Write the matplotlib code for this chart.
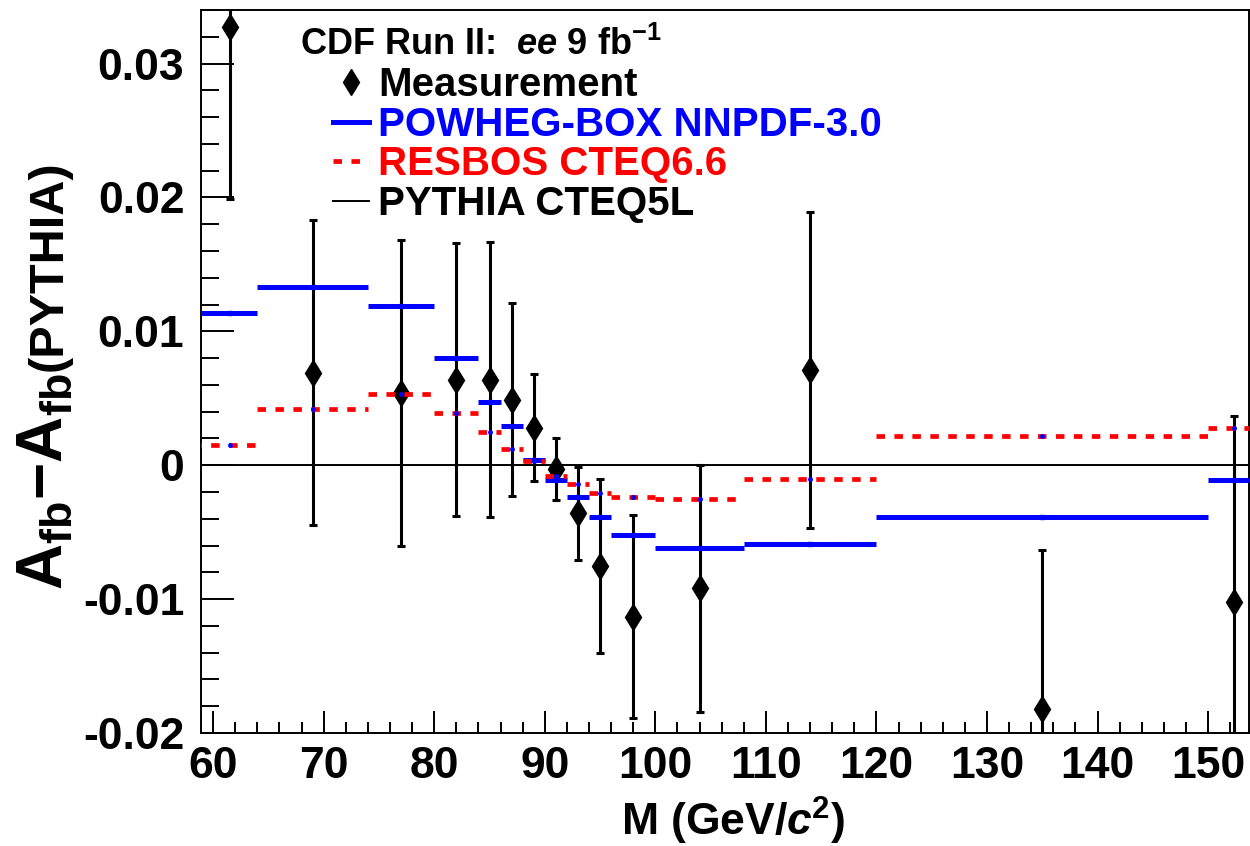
import numpy as np
import matplotlib.pyplot as plt
from matplotlib.lines import Line2D
from matplotlib.ticker import MultipleLocator

plt.rcParams['font.family'] = ['Liberation Sans', 'DejaVu Sans']
plt.rcParams['font.weight'] = 'bold'
plt.rcParams['mathtext.fontset'] = 'custom'
plt.rcParams['mathtext.rm'] = 'Liberation Sans:bold'
plt.rcParams['mathtext.bf'] = 'Liberation Sans:bold'
plt.rcParams['mathtext.it'] = 'Liberation Sans:italic:bold'
plt.rcParams['mathtext.bfit'] = 'Liberation Sans:italic:bold'
plt.rcParams['axes.unicode_minus'] = False

# mass bins (GeV/c^2)
bin_lo = [50, 64, 74, 80, 84, 86, 88, 90, 92, 94, 96, 100, 108, 120, 150]
bin_hi = [64, 74, 80, 84, 86, 88, 90, 92, 94, 96, 100, 108, 120, 150, 200]
mass = [61.5, 69, 77, 82, 85, 87, 89, 91, 93, 95, 98, 104, 114, 135, 152.3]

# A_fb - A_fb(PYTHIA)
meas = [0.0327, 0.0069, 0.0054, 0.0064, 0.0064, 0.0049, 0.0028, -0.0003,
        -0.0036, -0.0075, -0.0113, -0.0092, 0.0071, -0.0182, -0.0102]
meas_err = [0.0128, 0.0114, 0.0114, 0.0102, 0.0103, 0.0072, 0.0040, 0.0023,
            0.0035, 0.0065, 0.0076, 0.0092, 0.0118, 0.0119, 0.0139]
powheg = [0.0114, 0.0133, 0.0119, 0.0080, 0.0047, 0.0029, 0.0004, -0.0011,
          -0.0024, -0.0039, -0.0052, -0.0062, -0.0059, -0.0039, -0.0011]
resbos = [0.0015, 0.0042, 0.0053, 0.0039, 0.0025, 0.0012, 0.0003, -0.0008,
          -0.0014, -0.0021, -0.0024, -0.0025, -0.0010, 0.0022, 0.0028]

ytick_vals = [-0.02, -0.01, 0, 0.01, 0.02, 0.03]
ytick_labels = ['-0.02', '-0.01', '0', '0.01', '0.02', '0.03']

W, H = 1250, 846
fig = plt.figure(figsize=(W / 100, H / 100), dpi=100)
ax = fig.add_axes([201 / W, 1 - 733 / H, 1048 / W, 723 / H])

dash = (0, (1.8, 2.0))
ax.axhline(0, color='black', lw=1.4, zorder=1)
ax.errorbar(mass, meas, yerr=meas_err, fmt='none', ecolor='black',
            elinewidth=2.2, capsize=2.7, capthick=2.2, zorder=2)
ax.plot(mass, meas, 'kd', ms=13.5, zorder=2.5)
ax.hlines(powheg, bin_lo, bin_hi, colors='blue', lw=3.6, zorder=3)
ax.hlines(resbos, bin_lo, bin_hi, colors='red', lw=3.4, linestyles=[dash], zorder=3)
ax.plot(mass, powheg, 's', color='blue', ms=3.5, zorder=4)
ax.plot(mass, resbos, 'o', color='blue', ms=2.5, zorder=4)

ax.set_xlim(58.9, 153.7)
ax.set_ylim(-0.02, 0.034)
ax.xaxis.set_major_locator(MultipleLocator(10))
ax.xaxis.set_minor_locator(MultipleLocator(2))
ax.set_yticks(ytick_vals, ytick_labels)
ax.yaxis.set_minor_locator(MultipleLocator(0.002))
ax.tick_params(which='both', direction='in', top=False, right=False,
               width=1.4, labelsize=32)
ax.tick_params(axis='x', which='major', length=16, pad=9)
ax.tick_params(axis='x', which='minor', length=8)
ax.tick_params(axis='y', which='major', length=24, pad=12)
ax.tick_params(axis='y', which='minor', length=13)
for s in ax.spines.values():
    s.set_linewidth(1.4)

ax.set_xlabel(r"M (GeV/$\mathbfit{c}^{\mathbf{2}}$)", fontsize=32,
              fontweight='bold')
ax.xaxis.label.set_va('top')
ax.xaxis.set_label_coords(0.5 + 8 / 1048, -62 / 723)

# legend
ax.text((300 - 201) / 1048, (733 - 55) / 723,
        r"CDF Run II:  $\mathbfit{ee}$ 9 fb$^{\mathbf{-1}}$",
        transform=ax.transAxes, fontsize=26, va='baseline', ha='left')
handles = [
    Line2D([], [], color='black', marker='d', ls='none', ms=13.5),
    Line2D([], [], color='blue', lw=3.6),
    Line2D([], [], color='red', lw=3.4, ls=dash),
    Line2D([], [], color='black', lw=1.4),
]
labels = ['Measurement', 'POWHEG-BOX NNPDF-3.0', 'RESBOS CTEQ6.6', 'PYTHIA CTEQ5L']
ax.legend(handles, labels, loc='upper left',
          bbox_to_anchor=((333 - 201) / 1048, (733 - 66) / 723),
          frameon=False, fontsize=29, handlelength=0.9, handletextpad=0.22,
          labelspacing=0.04, borderpad=0, borderaxespad=0,
          labelcolor=['black', 'blue', 'red', 'black'])

# y axis title in two sizes
fig.canvas.draw()
r = fig.canvas.get_renderer()
x_base = 62 / W
t1 = fig.text(x_base, 1 - 590 / H, r"$\mathbf{A_{fb}{-}A_{fb}}$", fontsize=46,
              rotation=90, rotation_mode='anchor', ha='left', va='baseline')
bb = t1.get_window_extent(r)
t2 = fig.text(x_base, bb.y1 / H + 2 / H, "(PYTHIA)", fontsize=35,
              rotation=90, rotation_mode='anchor', ha='left', va='baseline')

fig.savefig('out.png', dpi=100)
